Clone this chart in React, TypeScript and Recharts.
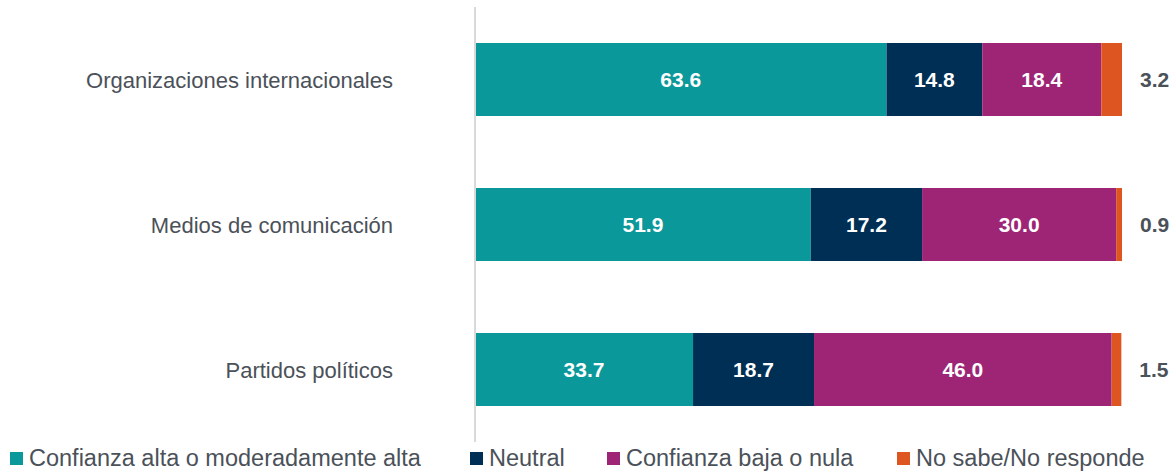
import { BarChart, Bar, XAxis, YAxis, Legend, LabelList } from "recharts";

const CATEGORIES = [
  "Organizaciones internacionales",
  "Medios de comunicación",
  "Partidos políticos",
];
const ALTA = [63.6, 51.9, 33.7];
const NEUTRAL = [14.8, 17.2, 18.7];
const BAJA = [18.4, 30.0, 46.0];
const NS_NR = [3.2, 0.9, 1.5];

const SERIES = [
  { key: "alta", name: "Confianza alta o moderadamente alta", color: "#0b989a" },
  { key: "neutral", name: "Neutral", color: "#002f55" },
  { key: "baja", name: "Confianza baja o nula", color: "#9e2576" },
  { key: "nsnr", name: "No sabe/No responde", color: "#dd5621" },
];

const data = CATEGORIES.map((name, i) => ({
  name,
  alta: ALTA[i],
  neutral: NEUTRAL[i],
  baja: BAJA[i],
  nsnr: NS_NR[i],
}));

const TEXT = "#4b5159";
const FONT = "'Liberation Sans', Arial, sans-serif";
const LEGEND_LEFT = [10, 470, 607, 897];

function CategoryTick(props: any) {
  const { x, y, payload } = props;
  return (
    <text x={x} y={y} dy={8} textAnchor="end" fill={TEXT} fontSize={22} fontFamily={FONT}>
      {payload.value}
    </text>
  );
}

function InsideLabel(props: any) {
  const { x, y, width, height, value } = props;
  return (
    <text
      x={x + width / 2}
      y={y + height / 2}
      dy={7.5}
      textAnchor="middle"
      fill="#ffffff"
      fontSize={21}
      fontWeight="bold"
      fontFamily={FONT}
    >
      {Number(value).toFixed(1)}
    </text>
  );
}

function OutsideLabel(props: any) {
  const { x, y, width, height, value } = props;
  return (
    <text
      x={x + width + 18}
      y={y + height / 2}
      dy={7.5}
      textAnchor="start"
      fill={TEXT}
      fontSize={21}
      fontWeight="bold"
      fontFamily={FONT}
    >
      {Number(value).toFixed(1)}
    </text>
  );
}

function ChartLegend() {
  return (
    <div style={{ position: "relative", height: 30, width: 1174 }}>
      {SERIES.map((s, i) => (
        <div
          key={s.key}
          style={{
            position: "absolute",
            left: LEGEND_LEFT[i],
            top: 4,
            display: "flex",
            alignItems: "center",
            fontFamily: FONT,
            fontSize: 23.5,
            lineHeight: "24px",
            color: TEXT,
            whiteSpace: "nowrap",
          }}
        >
          <span
            style={{ width: 13, height: 13, background: s.color, marginRight: 6, display: "inline-block" }}
          />
          {s.name}
        </div>
      ))}
    </div>
  );
}

export default function App() {
  return (
    <div style={{ position: "absolute", left: 0, top: 0, background: "#fff" }}>
      <BarChart
        width={1174}
        height={472}
        data={data}
        layout="vertical"
        margin={{ top: 7, right: 52, bottom: 0, left: 0 }}
        barSize={73}
      >
        <XAxis type="number" domain={[0, 100]} hide />
        <YAxis
          type="category"
          dataKey="name"
          width={475}
          tickLine={false}
          tickSize={0}
          tickMargin={82}
          axisLine={{ stroke: "#d9d9d9", strokeWidth: 2 }}
          tick={<CategoryTick />}
        />
        <Legend
          verticalAlign="bottom"
          wrapperStyle={{ left: 0, bottom: 0, width: 1174, height: 30 }}
          content={() => <ChartLegend />}
        />
        {SERIES.map((s, i) => (
          <Bar key={s.key} dataKey={s.key} name={s.name} stackId="a" fill={s.color} isAnimationActive={false}>
            <LabelList dataKey={s.key} content={i === 3 ? <OutsideLabel /> : <InsideLabel />} />
          </Bar>
        ))}
      </BarChart>
    </div>
  );
}
